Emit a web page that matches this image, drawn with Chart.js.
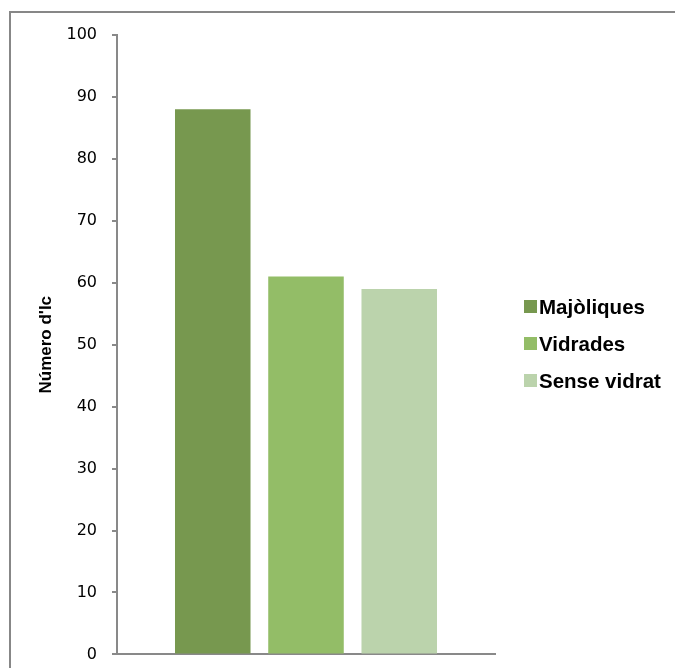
<!DOCTYPE html>
<html>
<head>
<meta charset="utf-8">
<script src="https://cdn.jsdelivr.net/npm/chart.js@4/dist/chart.umd.min.js"></script>
<style>
  html, body { margin: 0; padding: 0; background: #fff; }
  #wrap { position: relative; width: 675px; height: 668px; overflow: hidden; }
  #chart { position: absolute; left: 0; top: 0; }
  #frame { position: absolute; left: 9px; top: 11px; width: 700px; height: 700px;
           border-left: 2px solid #878787; border-top: 2px solid #878787; }
  #legend { position: absolute; left: 524px; top: 288px; font-family: 'Liberation Sans', Arial, sans-serif;
            font-weight: bold; font-size: 20.5px; color: #000; }
  #legend div { height: 37px; display: flex; align-items: center; white-space: nowrap; }
  #legend span.box { display: inline-block; width: 13px; height: 13px; margin-right: 2px; }
</style>
</head>
<body>
<div id="wrap">
  <div id="frame"></div>
  <canvas id="chart" width="675" height="679"></canvas>
  <div id="legend"></div>
</div>
<script>
const categories = [''];
const seriesNames = ['Majòliques', 'Vidrades', 'Sense vidrat'];
const seriesValues = [88, 61, 59];
const yMin = 0, yMax = 100, yStep = 10;
const yTitle = "Número d'Ic";

const seriesColors = ['#77984F', '#93BD67', '#BBD3AC'];
const axisColor = '#898989';

const datasets = seriesNames.map((name, i) => ({
  label: name,
  data: [seriesValues[i]],
  backgroundColor: seriesColors[i],
  borderWidth: 0,
  categoryPercentage: 0.74,
  barPercentage: 0.81,
}));

new Chart(document.getElementById('chart'), {
  type: 'bar',
  data: { labels: categories, datasets },
  options: {
    responsive: false,
    animation: false,
    layout: { padding: { left: 26, top: 35, right: 180, bottom: 4 } },
    scales: {
      x: {
        grid: { display: false },
        ticks: { display: false },
        border: { color: axisColor, width: 2 },
        afterFit: (s) => { s.height = 0; },
      },
      y: {
        min: yMin,
        max: yMax,
        ticks: {
          stepSize: yStep,
          color: '#000',
          padding: 15,
          font: { family: "'DejaVu Sans', sans-serif", size: 16 },
        },
        grid: { drawOnChartArea: false, tickLength: 5, color: axisColor, lineWidth: 2 },
        border: { color: axisColor, width: 2 },
        title: {
          display: true,
          text: yTitle,
          color: '#000',
          padding: { top: 10, bottom: 0 },
          font: { family: "'Liberation Sans', Arial, sans-serif", size: 17, weight: 'bold' },
        },
        afterFit: (s) => { s.width = 117 - 26; },
      }
    },
    plugins: {
      legend: { display: false },
      tooltip: { enabled: false },
    }
  }
});

// legend built from the same series arrays
const legendEl = document.getElementById('legend');
seriesNames.forEach((name, i) => {
  const row = document.createElement('div');
  const box = document.createElement('span');
  box.className = 'box';
  box.style.background = seriesColors[i];
  row.appendChild(box);
  row.appendChild(document.createTextNode(name));
  legendEl.appendChild(row);
});
</script>
</body>
</html>
